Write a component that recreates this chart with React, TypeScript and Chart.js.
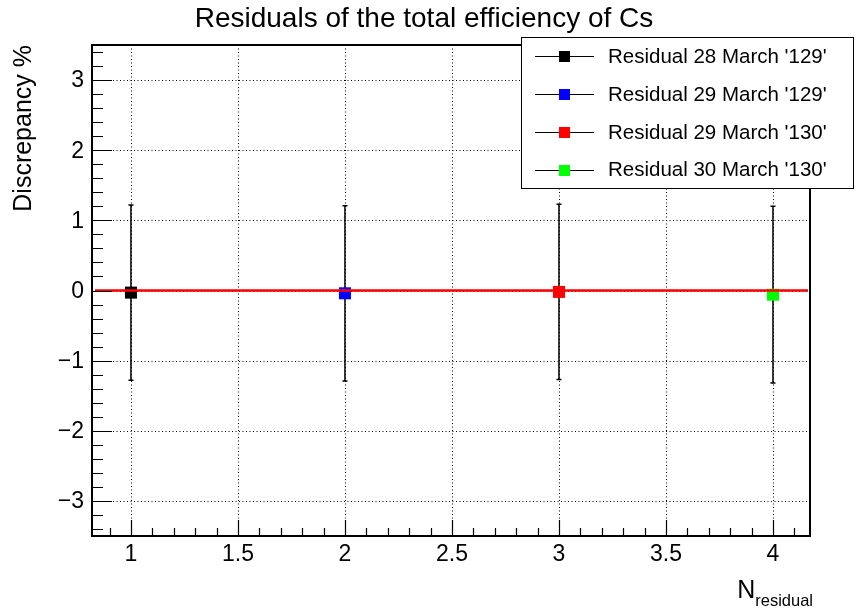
import React, { useEffect, useRef } from "react";
import { Chart, registerables } from "chart.js";

Chart.register(...registerables);

// Residual measurements
const seriesLabels = [
  "Residual 28 March '129'",
  "Residual 29 March '129'",
  "Residual 29 March '130'",
  "Residual 30 March '130'",
];
const nResidual = [1, 2, 3, 4];
const discrepancy = [-0.03, -0.04, -0.02, -0.06];
const discrepancyError = [1.25, 1.25, 1.25, 1.26];
const seriesColors = ["#000000", "#0000ff", "#ff0000", "#00ff00"];

// Axes
const xRange = [0.818, 4.173];
const yRange = [-3.5, 3.5];
const xTickLabels = ["1", "1.5", "2", "2.5", "3", "3.5", "4"];
const xTickValues = [1, 1.5, 2, 2.5, 3, 3.5, 4];
const yTickLabels = ["\u22123", "\u22122", "\u22121", "0", "1", "2", "3"];
const yTickValues = [-3, -2, -1, 0, 1, 2, 3];
const xMinorStep = 0.1;
const yMinorStep = 0.2;
const referenceLevel = 0;

const titleText = "Residuals of the total efficiency of Cs";
const yTitleText = "Discrepancy %";
const xTitleMain = "N";
const xTitleSub = "residual";

const FONT = "'Liberation Sans', Arial, Helvetica, sans-serif";

const rootStylePlugin = {
  id: "rootStyle",
  beforeDatasetsDraw(chart: any) {
    const { ctx, chartArea: a, scales } = chart;
    const xs = scales.x;
    const ys = scales.y;
    ctx.save();
    // dotted grid at the major ticks
    ctx.strokeStyle = "#000";
    ctx.lineWidth = 1;
    ctx.setLineDash([1, 2.5]);
    xTickValues.forEach((v) => {
      const px = Math.round(xs.getPixelForValue(v)) + 0.5;
      ctx.beginPath();
      ctx.moveTo(px, a.top);
      ctx.lineTo(px, a.bottom);
      ctx.stroke();
    });
    yTickValues.forEach((v) => {
      const py = Math.round(ys.getPixelForValue(v)) + 0.5;
      ctx.beginPath();
      ctx.moveTo(a.left, py);
      ctx.lineTo(a.right, py);
      ctx.stroke();
    });
    ctx.setLineDash([]);

    // error bars
    ctx.lineWidth = 1.5;
    ctx.strokeStyle = "#000";
    nResidual.forEach((n, i) => {
      const px = xs.getPixelForValue(n);
      const top = ys.getPixelForValue(discrepancy[i] + discrepancyError[i]);
      const bot = ys.getPixelForValue(discrepancy[i] - discrepancyError[i]);
      ctx.beginPath();
      ctx.moveTo(px, top);
      ctx.lineTo(px, bot);
      ctx.moveTo(px - 2.5, top);
      ctx.lineTo(px + 2.5, top);
      ctx.moveTo(px - 2.5, bot);
      ctx.lineTo(px + 2.5, bot);
      ctx.stroke();
    });
    ctx.restore();
  },
  afterDatasetsDraw(chart: any) {
    const { ctx, chartArea: a, scales } = chart;
    const xs = scales.x;
    const ys = scales.y;
    ctx.save();

    // reference line
    const py0 = ys.getPixelForValue(referenceLevel);
    ctx.strokeStyle = "#ff0000";
    ctx.lineWidth = 2.5;
    ctx.beginPath();
    ctx.moveTo(a.left + 3, py0);
    ctx.lineTo(a.right - 2, py0);
    ctx.stroke();

    // frame
    ctx.strokeStyle = "#000";
    ctx.lineWidth = 2;
    ctx.strokeRect(a.left, a.top, a.right - a.left, a.bottom - a.top);

    // ticks (inward)
    ctx.lineWidth = 1.2;
    ctx.beginPath();
    const xStart = Math.ceil(xRange[0] / xMinorStep);
    const xEnd = Math.floor(xRange[1] / xMinorStep);
    for (let k = xStart; k <= xEnd; k++) {
      const v = k * xMinorStep;
      const major = k % 5 === 0;
      const px = Math.round(xs.getPixelForValue(v)) + 0.5;
      ctx.moveTo(px, a.bottom);
      ctx.lineTo(px, a.bottom - (major ? 16 : 8));
    }
    const yStart = Math.ceil(yRange[0] / yMinorStep - 1e-9);
    const yEnd = Math.floor(yRange[1] / yMinorStep + 1e-9);
    for (let k = yStart; k <= yEnd; k++) {
      const v = k * yMinorStep;
      const major = k % 5 === 0;
      const py = Math.round(ys.getPixelForValue(v)) + 0.5;
      ctx.moveTo(a.left, py);
      ctx.lineTo(a.left + (major ? 20 : 11), py);
    }
    ctx.stroke();

    // tick labels
    ctx.fillStyle = "#000";
    ctx.font = `23px ${FONT}`;
    ctx.textAlign = "center";
    ctx.textBaseline = "alphabetic";
    xTickValues.forEach((v, i) => {
      ctx.fillText(xTickLabels[i], xs.getPixelForValue(v), a.bottom + 25);
    });
    ctx.textAlign = "right";
    ctx.textBaseline = "middle";
    yTickValues.forEach((v, i) => {
      ctx.fillText(yTickLabels[i], a.left - 8, ys.getPixelForValue(v) + 1);
    });

    // title
    ctx.font = `28px ${FONT}`;
    ctx.textAlign = "center";
    ctx.textBaseline = "alphabetic";
    ctx.fillText(titleText, 424, 27);

    // y title
    ctx.save();
    ctx.translate(31, a.top);
    ctx.rotate(-Math.PI / 2);
    ctx.font = `25px ${FONT}`;
    ctx.textAlign = "right";
    ctx.textBaseline = "alphabetic";
    ctx.fillText(yTitleText, 0, 0);
    ctx.restore();

    // x title with subscript
    ctx.textAlign = "left";
    ctx.font = `16.5px ${FONT}`;
    const subW = ctx.measureText(xTitleSub).width;
    ctx.font = `25px ${FONT}`;
    const mainW = ctx.measureText(xTitleMain).width;
    const xEndTitle = a.right + 3;
    const xT = xEndTitle - subW - mainW;
    ctx.fillText(xTitleMain, xT, 598);
    ctx.font = `16.5px ${FONT}`;
    ctx.fillText(xTitleSub, xT + mainW, 606);

    // legend
    const lx = 521.5, ly = 37.5, lw = 332, lh = 151;
    ctx.fillStyle = "#fff";
    ctx.fillRect(lx, ly, lw, lh);
    ctx.strokeStyle = "#000";
    ctx.lineWidth = 1;
    ctx.strokeRect(lx, ly, lw, lh);
    const rowH = lh / seriesLabels.length;
    ctx.font = `20.5px ${FONT}`;
    ctx.textBaseline = "middle";
    seriesLabels.forEach((lab, i) => {
      const cy = ly + rowH * (i + 0.5);
      ctx.strokeStyle = "#000";
      ctx.lineWidth = 1;
      ctx.beginPath();
      ctx.moveTo(535, Math.round(cy) + 0.5);
      ctx.lineTo(594, Math.round(cy) + 0.5);
      ctx.stroke();
      ctx.fillStyle = seriesColors[i];
      ctx.fillRect(559, Math.round(cy) - 5, 11, 11);
      ctx.fillStyle = "#000";
      ctx.fillText(lab, 608, cy + 1);
    });

    ctx.restore();
  },
};

export default function App() {
  const canvasRef = useRef<HTMLCanvasElement | null>(null);

  useEffect(() => {
    const canvas = canvasRef.current;
    if (!canvas) return;
    const chart = new Chart(canvas, {
      type: "scatter",
      data: {
        datasets: seriesLabels.map((lab, i) => ({
          label: lab,
          data: [{ x: nResidual[i], y: discrepancy[i] }],
          backgroundColor: seriesColors[i],
          borderColor: seriesColors[i],
          borderWidth: 0,
          pointStyle: "rect",
          pointRadius: 8.5,
          pointHoverRadius: 8.5,
        })),
      },
      options: {
        responsive: false,
        animation: false,
        devicePixelRatio: 1,
        layout: {
          autoPadding: false,
          padding: { left: 92, right: 46, top: 45, bottom: 78 },
        },
        plugins: {
          legend: { display: false },
          tooltip: { enabled: false },
          title: { display: false },
        },
        events: [],
        scales: {
          x: { type: "linear", display: false, min: xRange[0], max: xRange[1] },
          y: { type: "linear", display: false, min: yRange[0], max: yRange[1] },
        },
      },
      plugins: [rootStylePlugin],
    } as any);
    return () => chart.destroy();
  }, []);

  return (
    <div style={{ position: "fixed", left: 0, top: 0, width: 856, height: 614, background: "#fff" }}>
      <canvas ref={canvasRef} width={856} height={614} style={{ display: "block" }} />
    </div>
  );
}
